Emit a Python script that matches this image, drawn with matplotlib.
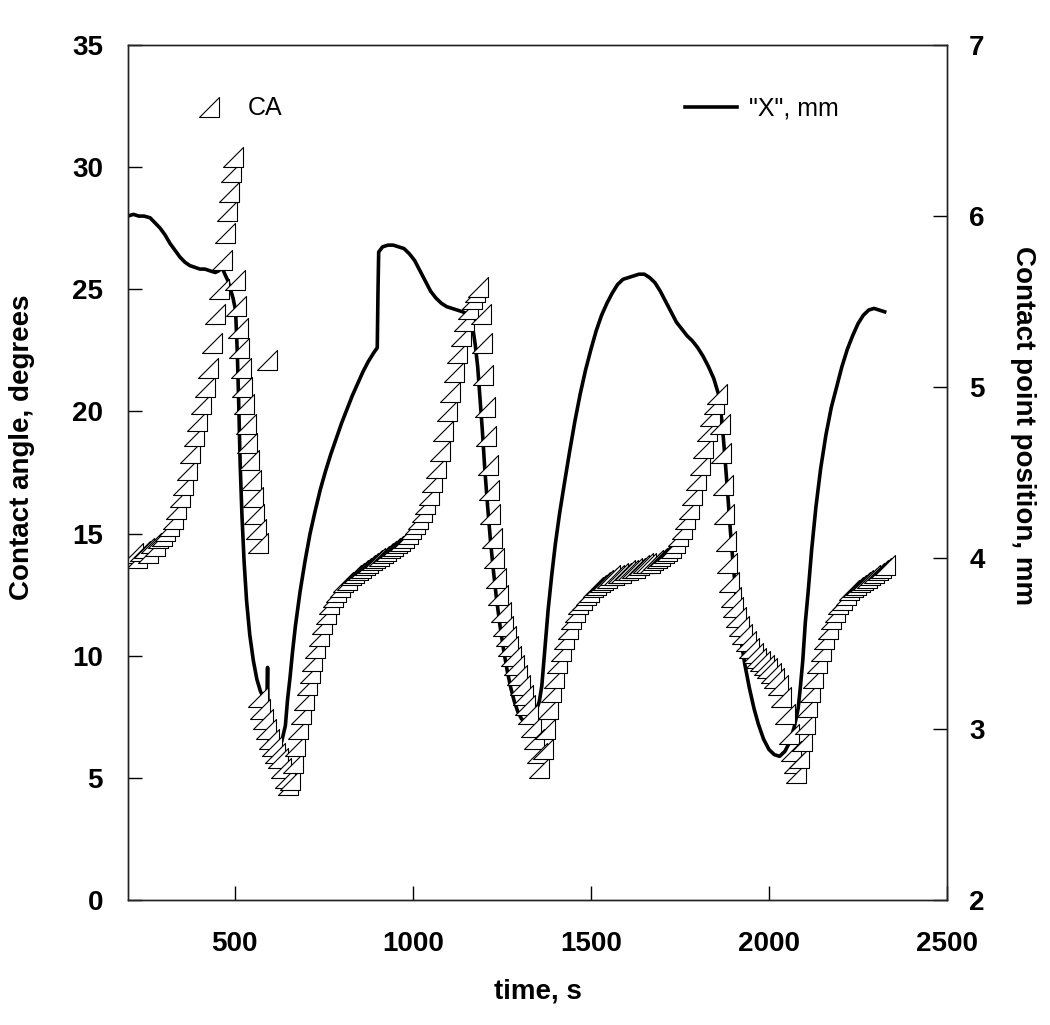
import matplotlib
matplotlib.use('Agg')
import matplotlib.pyplot as plt
from matplotlib.path import Path

plt.rcParams['font.family'] = ['Liberation Sans', 'DejaVu Sans']

# contact angle, degrees (left axis)
ca_time = [215, 225, 235, 245, 255, 265, 275, 285, 295, 305, 315, 325, 335, 345, 355,
           365, 375, 385, 395, 405, 415, 425, 435, 445, 455, 465, 472, 478, 484, 490, 495,
           500, 504, 508, 512, 516, 520, 525, 530, 535, 540, 545, 550, 555, 560, 566, 590,
           565, 572, 580, 588, 596, 604, 612, 620, 630, 640, 648,
           655, 662, 670, 678, 686, 694, 702, 710, 718, 726, 735, 745, 755, 765, 775, 785,
           795, 805, 815, 825, 835, 845, 855, 865, 875, 885, 895, 905, 915, 925, 935, 945,
           955, 965, 975, 985, 995, 1005, 1015, 1025, 1035, 1045, 1055, 1065, 1075, 1085,
           1095, 1105, 1115, 1125, 1135, 1145, 1155, 1165, 1175, 1182,
           1190, 1194, 1198, 1202, 1206, 1210, 1214, 1218, 1223, 1228, 1234, 1240, 1247,
           1254, 1261, 1268, 1276, 1284, 1292, 1300, 1308, 1316, 1324, 1332, 1340, 1348, 1355,
           1365, 1372, 1380, 1388, 1396, 1405, 1415, 1425, 1435, 1445, 1455, 1465, 1475,
           1485, 1495, 1505, 1515, 1525, 1535, 1545, 1555, 1565, 1575, 1585, 1595, 1605,
           1615, 1625, 1635, 1645, 1655, 1665, 1675, 1685, 1695, 1705, 1715, 1725, 1735,
           1745, 1755, 1765, 1775, 1785, 1795, 1805, 1815, 1825, 1835, 1845, 1855,
           1862, 1866, 1870, 1874, 1878, 1883, 1888, 1894, 1900, 1908, 1916, 1925, 1935,
           1945, 1955, 1965, 1975, 1985, 1995, 2005, 2015, 2025, 2035, 2045, 2055, 2063,
           2070, 2077,
           2085, 2092, 2100, 2108, 2116, 2125, 2135, 2145, 2155, 2165, 2175, 2185, 2195,
           2205, 2215, 2225, 2235, 2245, 2255, 2265, 2275, 2285, 2295, 2305, 2315, 2325]
ca_deg = [14.2, 14.0, 14.3, 14.4, 14.2, 14.6, 14.5, 14.8, 14.9, 15.1, 15.3, 15.6, 16.0, 16.5, 17.0,
          17.6, 18.3, 19.0, 19.6, 20.3, 21.0, 21.8, 22.8, 24.0, 25.0, 26.2, 27.3, 28.2, 29.0, 29.8, 30.4,
          25.4, 24.3, 23.4, 22.6, 21.8, 21.0, 20.3, 19.5, 18.7, 18.0, 17.2, 16.5, 15.8, 15.2, 14.6, 22.1,
          8.3, 7.8, 7.4, 7.0, 6.6, 6.3, 6.0, 5.8, 5.4, 5.0, 4.7,
          4.9, 5.6, 6.3, 7.0, 7.6, 8.2, 8.8, 9.3, 9.8, 10.3, 10.8, 11.3, 11.7, 12.1, 12.4, 12.6,
          12.8, 13.0, 13.1, 13.3, 13.4, 13.5, 13.6, 13.7, 13.8, 13.9, 14.0, 14.1, 14.2, 14.3, 14.4, 14.5,
          14.6, 14.7, 14.8, 15.0, 15.2, 15.4, 15.6, 15.9, 16.2, 16.6, 17.1, 17.7, 18.4, 19.2,
          20.0, 20.8, 21.6, 22.4, 23.1, 23.7, 24.2, 24.6, 24.9, 25.1,
          24.0, 22.8, 21.5, 20.2, 19.0, 17.8, 16.8, 15.8, 14.8, 14.0, 13.2, 12.5, 11.8,
          11.2, 10.8, 10.4, 10.0, 9.6, 9.2, 8.8, 8.4, 8.0, 7.6, 7.1, 6.6, 6.0, 5.4,
          6.2, 7.0, 7.8, 8.5, 9.1, 9.7, 10.2, 10.7, 11.1, 11.5, 11.8, 12.1, 12.3,
          12.5, 12.6, 12.8, 12.9, 13.0, 13.1, 13.2, 13.3, 13.3, 13.4, 13.4, 13.5, 13.5,
          13.6, 13.6, 13.7, 13.8, 13.8, 13.8, 13.9, 14.0, 14.1, 14.2, 14.3, 14.4, 14.6,
          14.9, 15.2, 15.6, 16.0, 16.6, 17.2, 17.8, 18.5, 19.2, 19.8, 20.3, 20.7,
          19.5, 18.3, 17.0, 15.8, 14.7, 13.8, 13.0, 12.4, 12.0, 11.6, 11.2, 10.9, 10.6,
          10.3, 10.1, 9.9, 9.8, 9.6, 9.5, 9.3, 9.1, 8.8, 8.3, 7.6, 6.8, 6.1,
          5.6, 5.2,
          5.8, 6.5, 7.2, 7.9, 8.5, 9.1, 9.7, 10.2, 10.7, 11.1, 11.5, 11.8, 12.1,
          12.3, 12.5, 12.7, 12.8, 12.9, 13.0, 13.1, 13.2, 13.3, 13.4, 13.5, 13.6, 13.7]

# contact point position "X", mm (right axis)
x_time = [200, 215, 230, 245, 262, 276, 290, 304, 318, 332, 346, 360, 374, 388, 402, 416,
          430, 445, 455, 464, 472, 481, 488, 495, 502, 507, 511, 515, 520, 526, 533, 542,
          552, 562, 572, 582, 590, 592, 594, 600, 610, 620, 632, 642, 648, 655, 662, 670,
          683, 697, 711, 725, 740, 755, 770, 785, 800, 815, 830, 845, 860, 875, 890, 900,
          902, 904, 915, 930, 945, 960, 975, 990, 1005, 1020, 1035, 1050, 1065, 1080, 1095,
          1110, 1125, 1140, 1150, 1160, 1168, 1175, 1182, 1188, 1195, 1202, 1210, 1218,
          1226, 1235, 1245, 1255, 1265, 1275, 1285, 1295, 1305, 1315, 1325, 1335, 1345,
          1355, 1362, 1368, 1374, 1380, 1390, 1400, 1412, 1425, 1440, 1455, 1470, 1485,
          1500, 1515, 1530, 1545, 1560, 1575, 1590, 1605, 1620, 1635, 1650, 1665, 1680,
          1695, 1710, 1725, 1740, 1755, 1770, 1785, 1800, 1815, 1830, 1845, 1858, 1868,
          1876, 1884, 1892, 1900, 1910, 1920, 1932, 1945, 1958, 1970, 1985, 2000, 2015,
          2030, 2045, 2060, 2072, 2082, 2088, 2095, 2102, 2110, 2120, 2132, 2145, 2160,
          2175, 2190, 2205, 2220, 2235, 2250, 2265, 2280, 2295, 2310, 2325]
x_mm = [6.00, 6.01, 6.00, 6.00, 5.99, 5.96, 5.93, 5.89, 5.84, 5.80, 5.76, 5.73, 5.71, 5.70, 5.69, 5.69,
        5.68, 5.67, 5.68, 5.70, 5.66, 5.62, 5.57, 5.52, 5.45, 5.20, 4.90, 4.55, 4.25, 3.98, 3.75, 3.55,
        3.40, 3.29, 3.22, 3.18, 3.16, 3.36, 2.98, 2.87, 2.84, 2.86, 2.93, 3.02, 3.17, 3.30, 3.45, 3.60,
        3.80, 3.98, 4.14, 4.27, 4.40, 4.51, 4.61, 4.70, 4.79, 4.87, 4.95, 5.02, 5.09, 5.15, 5.20, 5.23,
        5.55, 5.79, 5.82, 5.83, 5.83, 5.82, 5.81, 5.78, 5.74, 5.68, 5.62, 5.56, 5.52, 5.49, 5.47,
        5.46, 5.45, 5.44, 5.43, 5.41, 5.35, 5.25, 5.12, 4.95, 4.75, 4.52, 4.30, 4.10,
        3.93, 3.76, 3.60, 3.46, 3.34, 3.24, 3.16, 3.10, 3.06, 3.04, 3.05, 3.07, 3.10,
        3.16, 3.25, 3.40, 3.55, 3.70, 3.90, 4.08, 4.26, 4.43, 4.62, 4.80, 4.96, 5.10,
        5.22, 5.33, 5.42, 5.49, 5.55, 5.60, 5.63, 5.64, 5.65, 5.66, 5.66, 5.64, 5.61,
        5.56, 5.50, 5.44, 5.38, 5.34, 5.30, 5.27, 5.23, 5.18, 5.12, 5.05, 4.96, 4.80,
        4.60, 4.38, 4.15, 3.95, 3.73, 3.54, 3.38, 3.24, 3.12, 3.03, 2.94, 2.88, 2.85,
        2.84, 2.87, 2.93, 3.02, 3.12, 3.24, 3.40, 3.62, 3.80, 4.05, 4.30, 4.52, 4.72,
        4.88, 5.00, 5.12, 5.22, 5.30, 5.37, 5.42, 5.45, 5.46, 5.45, 5.44]

tri = Path([(-1, -1), (1, -1), (1, 1), (-1, -1)],
           [Path.MOVETO, Path.LINETO, Path.LINETO, Path.CLOSEPOLY])

fig = plt.figure(figsize=(10.5, 10.25), dpi=100)
ax = fig.add_axes([0.1219, 0.122, 0.7800, 0.834])
ax2 = ax.twinx()

ln, = ax2.plot(x_time, x_mm, color='black', lw=2.6, solid_joinstyle='round')
pts, = ax.plot(ca_time, ca_deg, ls='none', marker=tri, ms=15, mfc='white',
               mec='black', mew=0.8)

ax.set_zorder(ax2.get_zorder() + 1)
ax.patch.set_visible(False)

ax.set_xlim(200, 2500)
ax.set_ylim(0, 35)
ax2.set_ylim(2, 7)
ax.set_xticks([500, 1000, 1500, 2000, 2500])
ax.set_yticks(range(0, 36, 5))
ax2.set_yticks(range(2, 8))

for a in (ax, ax2):
    for s in a.spines.values():
        s.set_linewidth(1.0)
        s.set_color('#222222')
    for lab in a.get_yticklabels() + a.get_xticklabels():
        lab.set_fontweight('bold')
ax.tick_params(axis='x', direction='in', length=10, width=1, labelsize=20, pad=22)
ax.tick_params(axis='y', direction='in', length=10, width=1, labelsize=20, pad=18)
ax2.tick_params(axis='y', direction='in', length=10, width=1, labelsize=20, pad=16)

ax.set_xlabel('time, s', fontsize=20, fontweight='bold', labelpad=16)
ax.set_ylabel('Contact angle, degrees', fontsize=20, fontweight='bold')
ax.yaxis.set_label_coords(-0.113, 0.53)
ax2.set_ylabel('Contact point position, mm', fontsize=20, fontweight='bold',
               rotation=-90, va='bottom')
ax2.yaxis.set_label_coords(1.077, 0.555)

leg1 = ax.legend([pts], ['CA'], loc='center left', bbox_to_anchor=(0.076, 0.926),
                 frameon=False, fontsize=18, numpoints=1, handlelength=1.5,
                 handletextpad=0.8, borderpad=0, borderaxespad=0)
leg2 = ax2.legend([ln], ['"X", mm'], loc='center left', bbox_to_anchor=(0.68, 0.926),
                  frameon=False, fontsize=18, handlelength=2.1, handletextpad=0.45,
                  borderpad=0, borderaxespad=0)

fig.savefig('out.png', dpi=100)
